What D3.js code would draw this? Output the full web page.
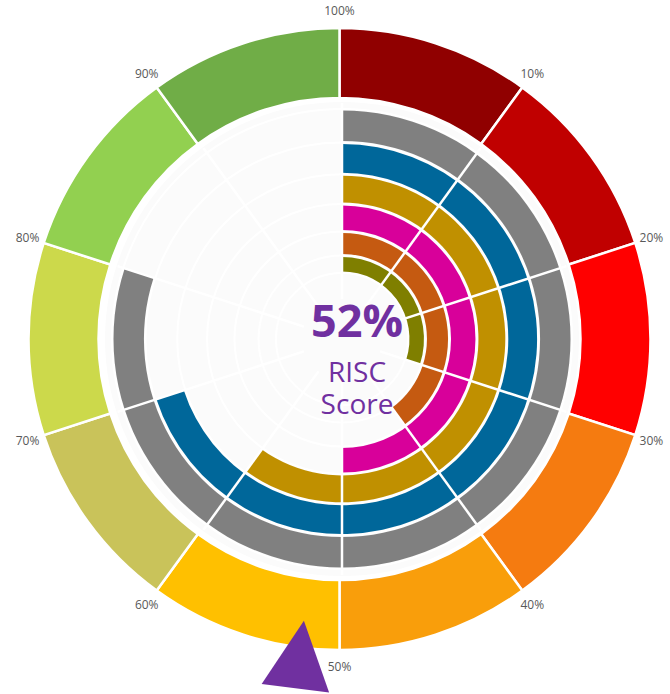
<!DOCTYPE html>
<html>
<head>
<meta charset="utf-8">
<script src="https://cdn.jsdelivr.net/npm/d3@7"></script>
<style>
  body { margin: 0; background: #fff; }
  svg { display: block; }
  text { font-family: "Segoe UI", "Open Sans", sans-serif; }
</style>
</head>
<body>
<div id="chart"></div>
<script>
'use strict';

// score shown in the middle and by the pointer
const scoreValue = 52;
const scoreLines = ['RISC', 'Score'];

// outer scale band, one segment per 10%
const bandEnds = [10, 20, 30, 40, 50, 60, 70, 80, 90, 100];
const bandLabels = ['10%', '20%', '30%', '40%', '50%', '60%', '70%', '80%', '90%', '100%'];

// inner radial bars, outermost first
const ringNames = ['Ring 1', 'Ring 2', 'Ring 3', 'Ring 4', 'Ring 5', 'Ring 6'];
const ringValues = [80, 70, 60, 50, 40, 30];

const bandColors = ['#900000', '#c00000', '#ff0000', '#f57b10', '#f99e0b',
                    '#ffc000', '#c9c35a', '#ccd94b', '#92d050', '#70ad47'];
const ringColors = ['#808080', '#00679a', '#c09000', '#d8009a', '#c55a11', '#7f7f00'];

const width = 670, height = 694;
const cx = 339.5, cy = 339;
const innerShift = 2.5; // bars sit a touch right of the outer ring centre

const svg = d3.select('#chart')
    .append('svg')
    .attr('width', width)
    .attr('height', height);

const angle = d3.scaleLinear().domain([0, 100]).range([0, 2 * Math.PI]);

// faint watermarks
const marks = [[100, 105], [585, 75], [50, 460], [575, 680], [170, 690]];
svg.append('g').selectAll('text')
    .data(marks)
    .join('text')
    .attr('transform', d => `translate(${d[0]},${d[1]}) rotate(-38)`)
    .attr('text-anchor', 'middle')
    .style('font-size', '38px')
    .attr('fill', '#000')
    .attr('fill-opacity', 0.022)
    .text('CyberInflight');

// ---- outer band
const outer = svg.append('g').attr('transform', `translate(${cx},${cy})`);
const bandArc = d3.arc().innerRadius(241).outerRadius(311);

outer.selectAll('path.band')
    .data(bandEnds)
    .join('path')
    .attr('class', 'band')
    .attr('d', d => bandArc({ startAngle: angle(d - 10), endAngle: angle(d) }))
    .attr('fill', (d, i) => bandColors[i])
    .attr('stroke', '#fff')
    .attr('stroke-width', 2.5);

outer.selectAll('text.tick')
    .data(bandEnds)
    .join('text')
    .attr('class', 'tick')
    .attr('x', d => Math.sin(angle(d)) * 328)
    .attr('y', d => -Math.cos(angle(d)) * 328)
    .attr('dy', '0.35em')
    .attr('text-anchor', 'middle')
    .style('font-size', '12px')
    .attr('fill', '#595959')
    .text((d, i) => bandLabels[i]);

// ---- inner radial bars
const inner = svg.append('g').attr('transform', `translate(${cx + innerShift},${cy})`);

inner.append('circle')
    .attr('r', 237)
    .attr('fill', '#fbfbfb');

const ringEdge = d3.scalePow().exponent(1.25).domain([0, ringValues.length]).range([66, 230]);
const ringIndex = i => ringValues.length - 1 - i; // 0 = innermost

// background grid
inner.append('g').selectAll('circle')
    .data(d3.range(ringValues.length + 1))
    .join('circle')
    .attr('r', d => ringEdge(d))
    .attr('fill', 'none')
    .attr('stroke', '#fff')
    .attr('stroke-width', 2);

const ringArc = d3.arc();

inner.selectAll('path.bar')
    .data(ringValues)
    .join('path')
    .attr('class', 'bar')
    .attr('d', (d, i) => ringArc({
        innerRadius: ringEdge(ringIndex(i)) + 1.5,
        outerRadius: ringEdge(ringIndex(i) + 1) - 1.5,
        startAngle: 0,
        endAngle: angle(d)
    }))
    .attr('fill', (d, i) => ringColors[i]);

// white spokes every 10%
inner.append('g').selectAll('line')
    .data(bandEnds)
    .join('line')
    .attr('x1', d => Math.sin(angle(d)) * 40)
    .attr('y1', d => -Math.cos(angle(d)) * 40)
    .attr('x2', d => Math.sin(angle(d)) * 236)
    .attr('y2', d => -Math.cos(angle(d)) * 236)
    .attr('stroke', '#fff')
    .attr('stroke-width', 2.5);

// ---- pointer
svg.append('path')
    .attr('transform', `translate(${cx},${cy}) rotate(${angle(scoreValue) * 180 / Math.PI})`)
    .attr('d', d3.line()([[0, -284], [-34, -352], [34, -352]]) + 'Z')
    .attr('fill', '#7030a0');

// ---- centre text
const centre = svg.append('g').attr('fill', '#7030a0').attr('text-anchor', 'middle');
centre.append('text')
    .attr('x', 357).attr('y', 337)
    .style('font-size', '45px')
    .style('font-weight', 'bold')
    .text(scoreValue + '%');
centre.selectAll('text.sub')
    .data(scoreLines)
    .join('text')
    .attr('class', 'sub')
    .attr('x', 357)
    .attr('y', (d, i) => 382 + i * 32)
    .style('font-size', '28px')
    .text(d => d);
</script>
</body>
</html>
